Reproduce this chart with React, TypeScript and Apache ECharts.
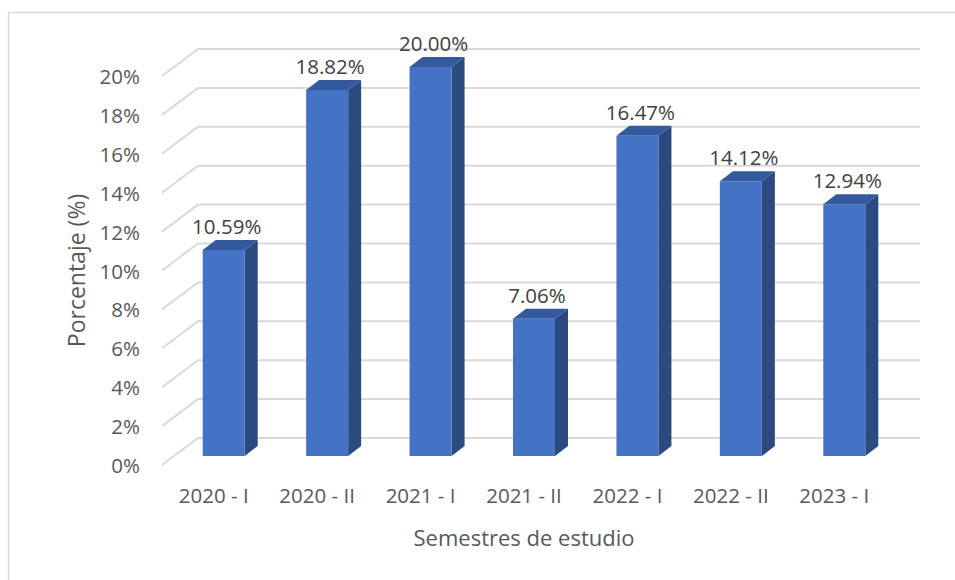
import React, { useEffect, useRef } from "react";
import * as echarts from "echarts";

const categories = ["2020 - I", "2020 - II", "2021 - I", "2021 - II", "2022 - I", "2022 - II", "2023 - I"];
const values = [10.59, 18.82, 20.0, 7.06, 16.47, 14.12, 12.94];
const yTicks = [0, 2, 4, 6, 8, 10, 12, 14, 16, 18, 20];

const FONT = "'Open Sans', 'Liberation Sans', Arial, sans-serif";
const TEXT = "#595959";

export default function App() {
  const ref = useRef<HTMLDivElement>(null);
  useEffect(() => {
    if (!ref.current) return;
    const chart = echarts.init(ref.current, null, { renderer: "svg" });
    const option: any = {
      animation: false,
      backgroundColor: "#ffffff",
      graphic: [
        {
          type: "rect",
          shape: { x: 8.5, y: 12.5, width: 1200, height: 1200 },
          style: { fill: "none", stroke: "#d9d9d9", lineWidth: 1.5 },
          silent: true,
        },
      ],
      grid: { left: 162, right: 69, top: 76, bottom: 115 },
      xAxis: {
        type: "category",
        data: categories,
        axisLine: { show: false },
        axisTick: { show: false },
        axisLabel: { color: TEXT, fontSize: 20.5, fontFamily: FONT, margin: 19 },
        name: "Semestres de estudio",
        nameLocation: "middle",
        nameGap: 61,
        nameTextStyle: { color: TEXT, fontSize: 22, fontFamily: FONT },
      },
      yAxis: {
        type: "value",
        min: 0,
        max: 20,
        interval: 2,
        axisLine: { show: false },
        axisTick: { show: false },
        splitLine: { show: false },
        axisLabel: { color: TEXT, fontSize: 20.5, fontFamily: FONT, margin: 22, formatter: "{value}%" },
        name: "Porcentaje (%)",
        nameLocation: "middle",
        nameGap: 75,
        nameTextStyle: { color: TEXT, fontSize: 23, fontFamily: FONT },
      },
      series: [
        {
          type: "custom",
          silent: true,
          z: 1,
          data: yTicks.map((v) => [0, v]),
          encode: { x: 0, y: 1 },
          renderItem: (params: any, api: any) => {
            const cs = params.coordSys;
            const p = api.coord([0, api.value(1)]);
            const y = p[1];
            const x0 = cs.x;
            const x1 = cs.x + cs.width + 34;
            return {
              type: "polyline",
              shape: { points: [[x0, y], [x0 + 36, y - 27], [x1, y - 27]] },
              style: { stroke: "#d9d9d9", lineWidth: 2, fill: "none" },
            };
          },
        },
        {
          type: "custom",
          z: 2,
          data: values.map((v, i) => [i, v]),
          encode: { x: 0, y: 1 },
          renderItem: (params: any, api: any) => {
            const i = api.value(0);
            const v = api.value(1);
            const top = api.coord([i, v]);
            const base = api.coord([i, 0]);
            const cx = top[0] + 10;
            const x0 = cx - 21;
            const x1 = cx + 21;
            const yb = base[1] - 9;
            const yt = top[1] - 9;
            const dx = 13;
            const dy = 10;
            return {
              type: "group",
              children: [
                {
                  type: "polygon",
                  shape: { points: [[x1, yt], [x1 + dx, yt - dy], [x1 + dx, yb - dy], [x1, yb]] },
                  style: { fill: "#2b4a80" },
                },
                {
                  type: "polygon",
                  shape: { points: [[x0, yt], [x0 + dx, yt - dy], [x1 + dx, yt - dy], [x1, yt]] },
                  style: { fill: "#34599c" },
                },
                {
                  type: "rect",
                  shape: { x: x0, y: yt, width: x1 - x0, height: yb - yt },
                  style: { fill: "#4472c4" },
                },
                {
                  type: "text",
                  x: cx + 3,
                  y: yt - 24,
                  style: {
                    text: v.toFixed(2) + "%",
                    fill: "#404040",
                    fontSize: 20.5,
                    fontFamily: FONT,
                    align: "center",
                    verticalAlign: "middle",
                  },
                },
              ],
            };
          },
        },
      ],
    };
    chart.setOption(option);
    return () => chart.dispose();
  }, []);
  return (
    <div
      ref={ref}
      style={{ position: "fixed", left: 0, top: 0, width: 955, height: 580, background: "#fff" }}
    />
  );
}
